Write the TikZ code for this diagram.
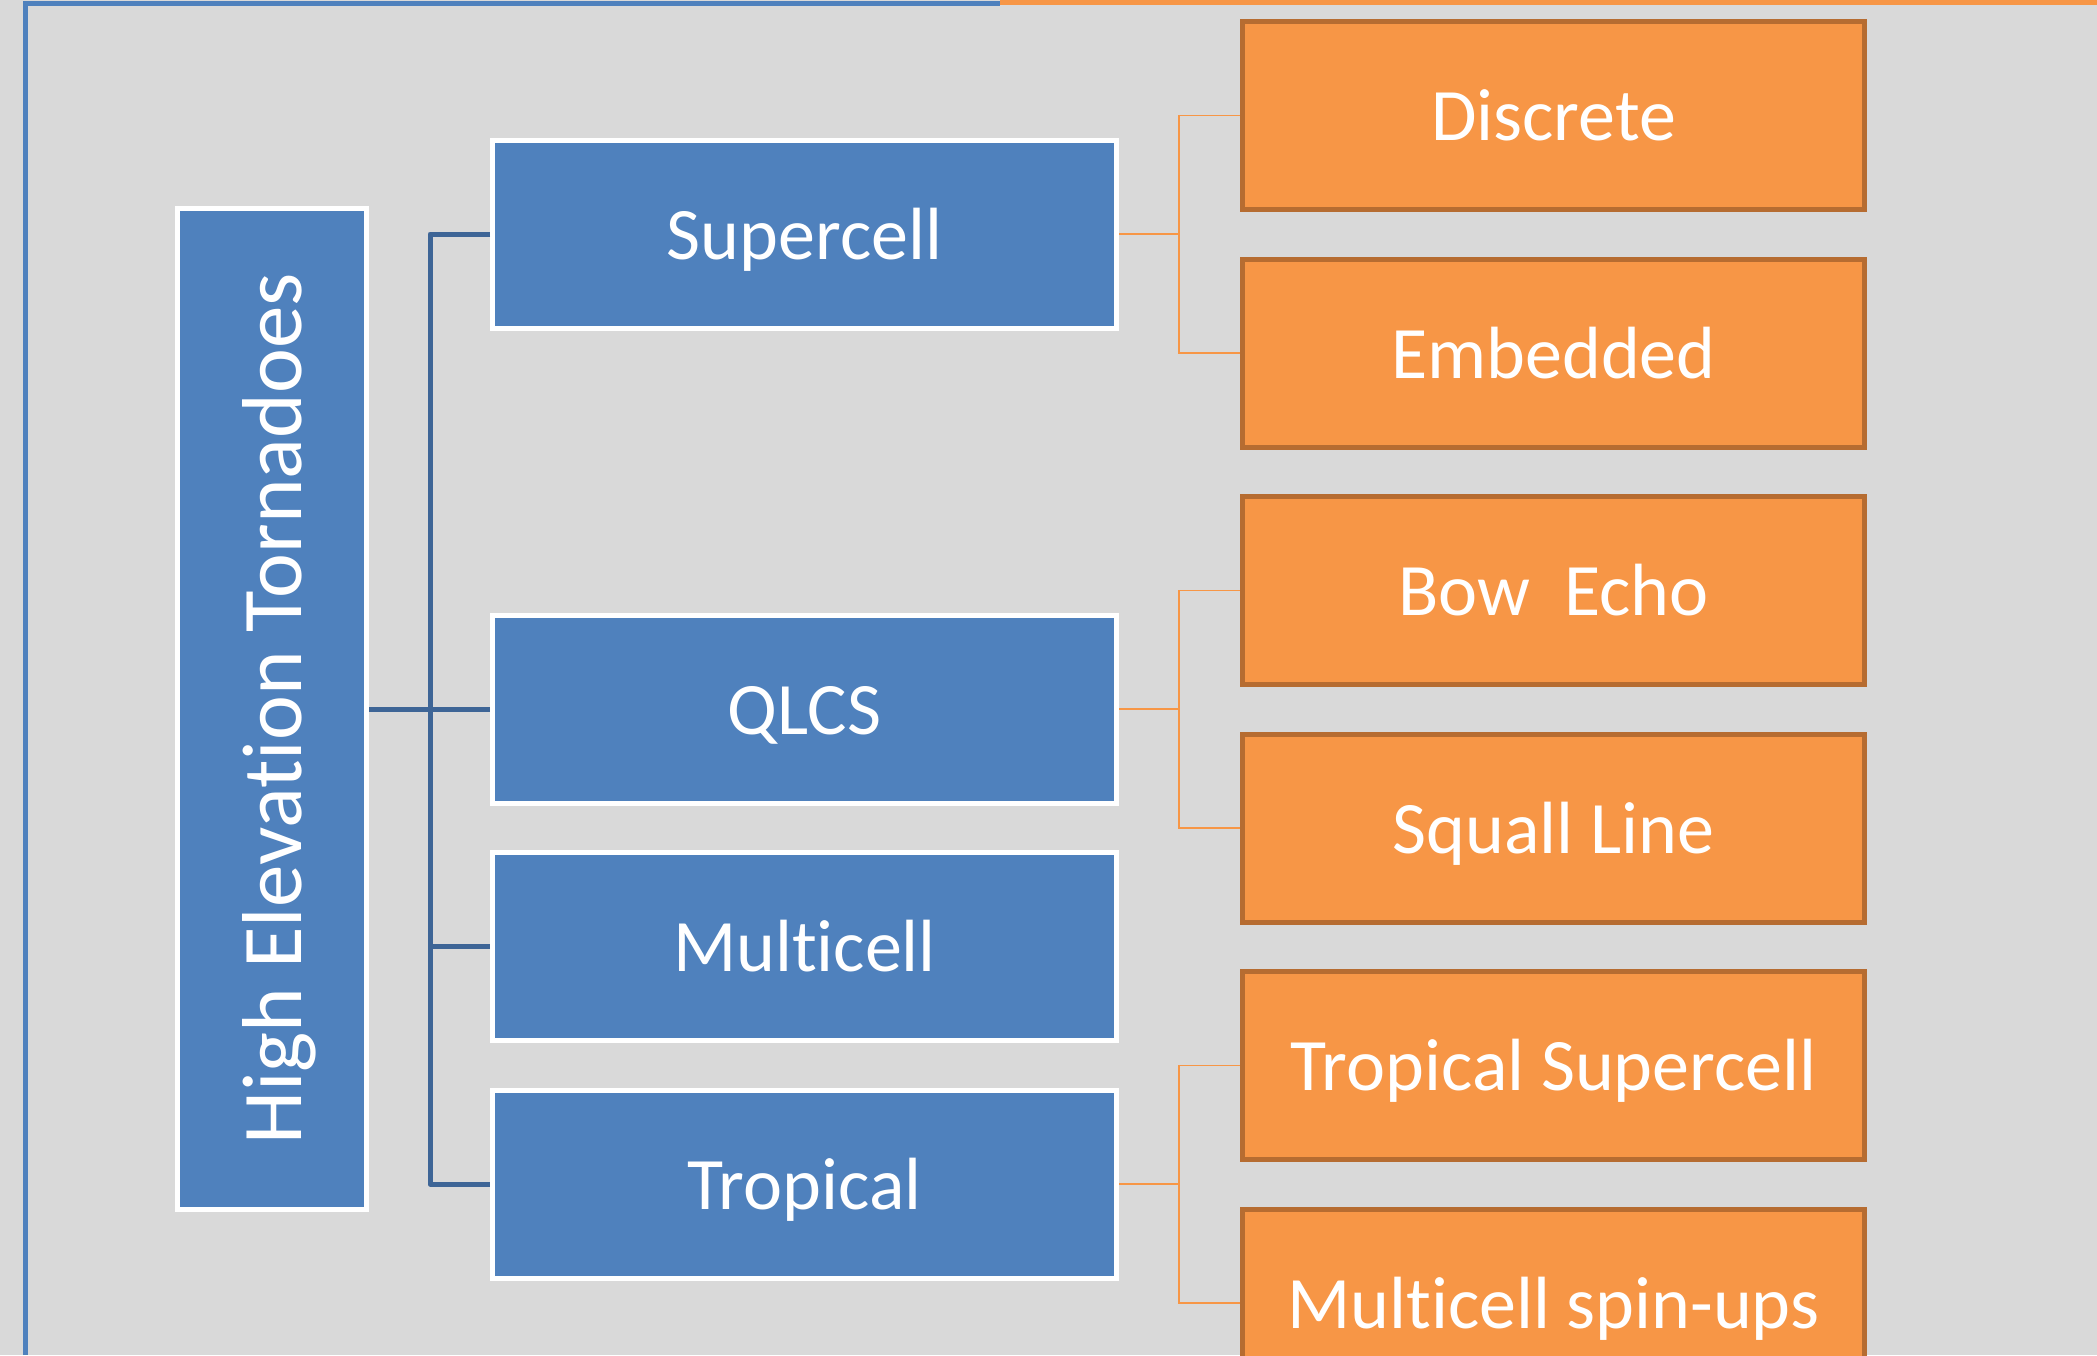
\documentclass[tikz,border=0pt]{standalone}
\usepackage{fontspec}
\setmainfont{Carlito}[Ligatures=NoCommon]
\definecolor{bgc}{RGB}{217,217,217}
\definecolor{bluef}{RGB}{79,129,189}
\definecolor{orangef}{RGB}{247,150,70}
\definecolor{oborder}{RGB}{182,108,49}
\definecolor{bconn}{RGB}{62,101,150}
\begin{document}
\begin{tikzpicture}[x=0.5pt,y=-0.5pt,
  bluebox/.style={draw=white,fill=bluef,line width=2.5pt,minimum width=312pt,minimum height=94pt,
    text=white,font=\fontsize{37}{44}\selectfont,text height=25pt,text depth=0pt,inner sep=0pt},
  orangebox/.style={draw=oborder,fill=orangef,line width=2.5pt,minimum width=311pt,minimum height=94pt,
    text=white,font=\fontsize{37}{44}\selectfont,text height=25pt,text depth=0pt,inner sep=0pt},
  rootbox/.style={draw=white,fill=bluef,line width=2.5pt,minimum width=500.5pt,minimum height=94.5pt,
    text=white,font=\fontsize{42.5}{51}\selectfont,text height=29pt,text depth=0pt,inner sep=0pt,rotate=90},
  bluelink/.style={draw=bconn,line width=2.5pt,line join=round},
  orangelink/.style={draw=orangef,line width=0.7pt}]
\useasboundingbox (0,0) rectangle (2097,1355);
\clip (0,0) rectangle (2097,1355);
\fill[bgc] (0,0) rectangle (2097,1355);
% frame edges
\draw[orangef,line width=2.5pt] (1000,2.5) -- (2097,2.5);
\draw[bluef,line width=2.5pt] (25,1355) -- (25,3) -- (1000,3);
% nodes
\node[rootbox] (root) at (272,709) {High Elevation Tornadoes};
\node[bluebox] (super) at (804.5,234) {Supercell};
\node[bluebox] (qlcs) at (804.5,709) {QLCS};
\node[bluebox] (multi) at (804.5,946.5) {Multicell};
\node[bluebox] (trop) at (804.5,1184) {Tropical};
\node[orangebox] (disc) at (1553.5,115.5) {Discrete};
\node[orangebox] (emb) at (1553.5,353) {Embedded};
\node[orangebox] (bow) at (1553.5,590.5) {Bow\ \ Echo};
\node[orangebox] (squall) at (1553.5,828) {Squall Line};
\node[orangebox] (tsup) at (1553.5,1065.5) {Tropical Supercell};
\node[orangebox] (mspin) at (1553.5,1303) {Multicell spin-ups};
% blue connectors
\coordinate (tj) at (430,709);
\draw[bluelink] (root.south) -- (qlcs.west);
\draw[bluelink] (super.west) -| (tj) |- (trop.west);
\draw[bluelink] (tj) |- (multi.west);
% orange connectors
\coordinate (oj1) at (1179,234);
\coordinate (oj2) at (1179,709);
\coordinate (oj3) at (1179,1184);
\draw[orangelink] (super.east) -- (oj1);
\draw[orangelink] (disc.west) -| (oj1) |- (emb.west);
\draw[orangelink] (qlcs.east) -- (oj2);
\draw[orangelink] (bow.west) -| (oj2) |- (squall.west);
\draw[orangelink] (trop.east) -- (oj3);
\draw[orangelink] (tsup.west) -| (oj3) |- (mspin.west);
\end{tikzpicture}
\end{document}
